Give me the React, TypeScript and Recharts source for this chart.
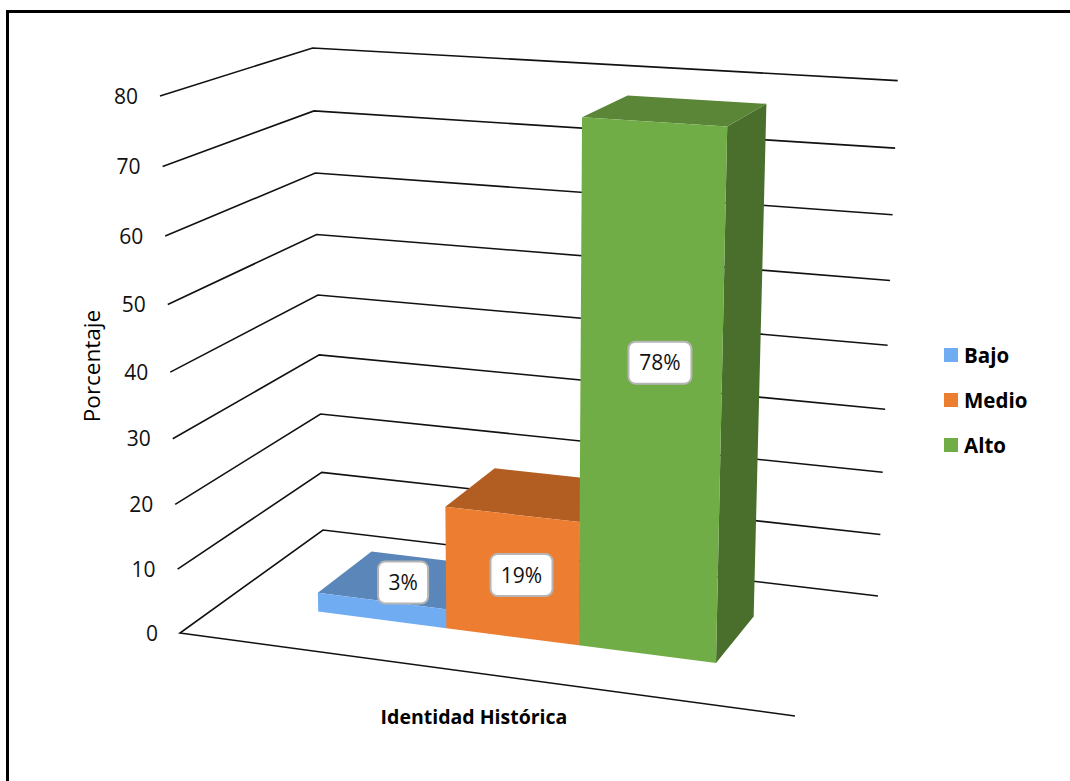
import { Bar, BarChart, CartesianGrid, LabelList, Legend, XAxis, YAxis } from "recharts";

const categories = ["Identidad Histórica"];
const seriesNames = ["Bajo", "Medio", "Alto"];
const bajoValues = [3];
const medioValues = [19];
const altoValues = [78];
const yTicks = [0, 10, 20, 30, 40, 50, 60, 70, 80];

const data = categories.map((name, i) => ({
  name,
  [seriesNames[0]]: bajoValues[i],
  [seriesNames[1]]: medioValues[i],
  [seriesNames[2]]: altoValues[i],
}));

const FONT = "'Open Sans', sans-serif";

// plot rectangle; its x / y are turned into floor position and height below
const PLOT = { left: 180, right: 768, top: 96, bottom: 634 };

// perspective from the floor corners of the box
const P0 = [180, 633];
const P1 = [795, 716];
const P2 = [878, 596];
const P3 = [323, 530];
const TOP0 = [160, 96];
const dh = -0.055;

const dx1 = P1[0] - P2[0];
const dx2 = P3[0] - P2[0];
const sx = P0[0] - P1[0] + P2[0] - P3[0];
const dy1 = P1[1] - P2[1];
const dy2 = P3[1] - P2[1];
const sy = P0[1] - P1[1] + P2[1] - P3[1];
const det = dx1 * dy2 - dx2 * dy1;
const du = (sx * dy2 - dx2 * sy) / det;
const dv = (dx1 * sy - sx * dy1) / det;

function project(u: number, v: number, h: number) {
  const d = 1 + du * u + dv * v + dh * h;
  const x =
    P0[0] +
    u * (P1[0] * (1 + du) - P0[0]) +
    v * (P3[0] * (1 + dv) - P0[0]) +
    h * (TOP0[0] * (1 + dh) - P0[0]);
  const y =
    P0[1] +
    u * (P1[1] * (1 + du) - P0[1]) +
    v * (P3[1] * (1 + dv) - P0[1]) +
    h * (TOP0[1] * (1 + dh) - P0[1]);
  return [x / d, y / d];
}

const BAR_SHIFT = -1.5;
const toU = (x: number) => (x - PLOT.left) / (PLOT.right - PLOT.left);
const toH = (y: number) => (PLOT.bottom - y) / (PLOT.bottom - PLOT.top);
const pts = (list: number[][]) => list.map((p) => p.join(",")).join(" ");

const FRONT = 0.3;
const BACK = 0.7;

function Bar3D({ x, y, width, height, fill, topFill, sideFill }: any) {
  const u0 = toU(x + BAR_SHIFT);
  const u1 = toU(x + width + BAR_SHIFT);
  const h0 = toH(y + height);
  const h1 = toH(y);
  const front = [project(u0, FRONT, h0), project(u1, FRONT, h0), project(u1, FRONT, h1), project(u0, FRONT, h1)];
  const top = [project(u0, FRONT, h1), project(u1, FRONT, h1), project(u1, BACK, h1), project(u0, BACK, h1)];
  const side = [project(u1, FRONT, h0), project(u1, BACK, h0), project(u1, BACK, h1), project(u1, FRONT, h1)];
  return (
    <g>
      <polygon points={pts(side)} fill={sideFill} />
      <polygon points={pts(top)} fill={topFill} />
      <polygon points={pts(front)} fill={fill} />
    </g>
  );
}

function BoxLabel({ x, y, width, height, value, boxW, nudgeX, nudgeY }: any) {
  const [cx, cy] = project(toU(x + width / 2), FRONT, toH(y + height / 2));
  const px = cx + nudgeX;
  const py = cy + nudgeY;
  return (
    <g>
      <rect x={px - boxW / 2} y={py - 21} width={boxW} height={42} rx={7} fill="#fff" stroke="#b5b5b5" strokeWidth={2} />
      <text x={px} y={py + 7.5} textAnchor="middle" fontFamily={FONT} fontSize={21} fill="#111">
        {`${value}%`}
      </text>
    </g>
  );
}

function GridLine(props: any) {
  const h = toH(props.y1);
  const line = [project(0, 0, h), project(0, 1, h), project(1, 1, h)];
  if (h === 0) line.unshift(project(1, 0, 0));
  return <polyline key={props.index} points={pts(line)} fill="none" stroke="#111" strokeWidth={1.6} />;
}

function ValueTick({ y, payload }: any) {
  const [px, py] = project(0, 0, toH(y));
  return (
    <text x={px - 22} y={py + 7.5} textAnchor="end" fontFamily={FONT} fontSize={21} fill="#111">
      {payload.value}
    </text>
  );
}

function CategoryTick({ payload }: any) {
  return (
    <text x={474} y={724} textAnchor="middle" fontFamily={FONT} fontSize={19.5} fontWeight={700} fill="#000">
      {payload.value}
    </text>
  );
}

function LegendList({ payload }: any) {
  return (
    <div>
      {(payload || []).map((item: any) => (
        <div key={item.value} style={{ display: "flex", alignItems: "center", height: 45 }}>
          <span style={{ width: 14, height: 14, background: item.color, marginRight: 6 }} />
          <span style={{ fontFamily: FONT, fontWeight: 700, fontSize: 20.5, color: "#000" }}>{item.value}</span>
        </div>
      ))}
    </div>
  );
}

export default function App() {
  return (
    <div style={{ position: "absolute", left: 0, top: 0, width: 1070, height: 781, background: "#fff", overflow: "hidden" }}>
      <div style={{ position: "absolute", left: 6, top: 10, width: 1070, height: 800, border: "3px solid #000" }} />
      <div style={{ position: "absolute", left: 0, top: 0 }}>
        <BarChart
          width={1070}
          height={781}
          data={data}
          margin={{ top: PLOT.top, right: 1070 - PLOT.right, bottom: 0, left: 0 }}
          barCategoryGap="16.7%"
          barGap={0}
        >
          <CartesianGrid vertical={false} horizontal={GridLine} />
          <XAxis dataKey="name" height={781 - PLOT.bottom} axisLine={false} tickLine={false} tick={CategoryTick} />
          <YAxis
            width={PLOT.left}
            domain={[0, 80]}
            ticks={yTicks}
            axisLine={false}
            tickLine={false}
            tick={ValueTick}
            label={{
              value: "Porcentaje",
              angle: -90,
              position: "center",
              dx: 2,
              dy: 1,
              fontFamily: FONT,
              fontSize: 22.5,
              fill: "#000",
            }}
          />
          <Legend
            layout="horizontal"
            verticalAlign="middle"
            itemSorter={null}
            content={LegendList}
            wrapperStyle={{ left: 944, top: 332, width: 110 }}
          />
          <Bar
            dataKey={seriesNames[0]}
            fill="#70ACF2"
            isAnimationActive={false}
            shape={<Bar3D topFill="#5A86B9" sideFill="#4F76A4" />}
          >
            <LabelList dataKey={seriesNames[0]} content={<BoxLabel boxW={50} nudgeX={20} nudgeY={-28} />} />
          </Bar>
          <Bar
            dataKey={seriesNames[1]}
            fill="#ED7D31"
            isAnimationActive={false}
            shape={<Bar3D topFill="#B25E22" sideFill="#8F4C1C" />}
          >
            <LabelList dataKey={seriesNames[1]} content={<BoxLabel boxW={62} nudgeX={8} nudgeY={-1} />} />
          </Bar>
          <Bar
            dataKey={seriesNames[2]}
            fill="#70AD47"
            isAnimationActive={false}
            shape={<Bar3D topFill="#5B8537" sideFill="#4A6F2C" />}
          >
            <LabelList dataKey={seriesNames[2]} content={<BoxLabel boxW={63} nudgeX={8} nudgeY={-33} />} />
          </Bar>
        </BarChart>
      </div>
    </div>
  );
}
